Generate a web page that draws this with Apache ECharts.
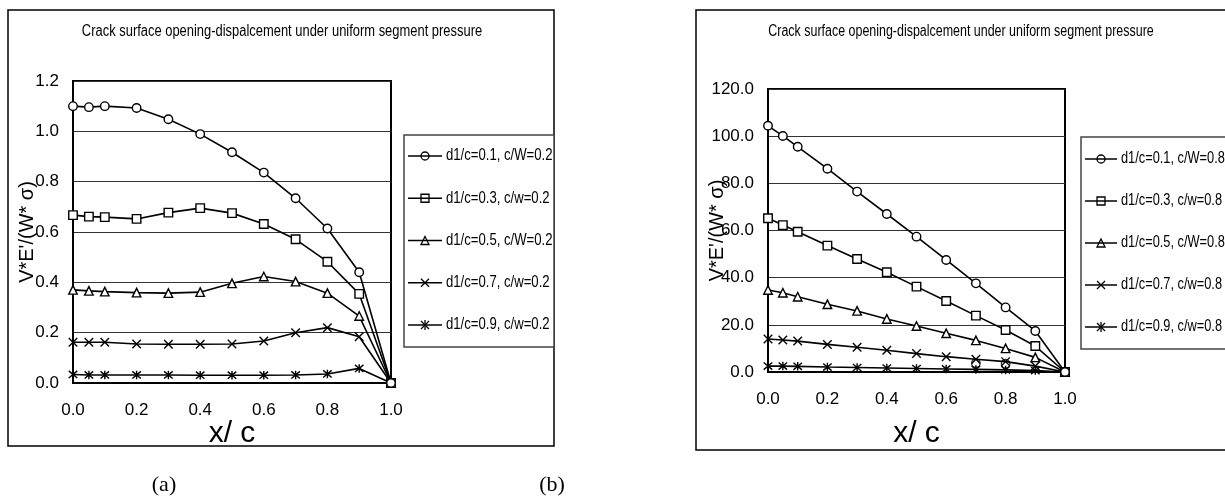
<!DOCTYPE html>
<html>
<head>
<meta charset="utf-8">
<script src="https://cdn.jsdelivr.net/npm/echarts@6/dist/echarts.min.js"></script>
<style>
html,body{margin:0;padding:0;background:#fff;}
#chart{width:1225px;height:498px;}
</style>
</head>
<body>
<div id="chart"></div>
<script>
// ---------- data ----------
const titleText = "Crack surface opening-dispalcement under uniform segment pressure";
const xVals = [0, 0.05, 0.1, 0.2, 0.3, 0.4, 0.5, 0.6, 0.7, 0.8, 0.9, 1.0];

// chart (a): c/W = 0.2
const a1 = [1.100, 1.096, 1.100, 1.093, 1.048, 0.989, 0.917, 0.836, 0.734, 0.614, 0.440, 0];
const a2 = [0.667, 0.661, 0.659, 0.652, 0.677, 0.695, 0.675, 0.632, 0.571, 0.482, 0.354, 0];
const a3 = [0.370, 0.366, 0.363, 0.359, 0.357, 0.361, 0.396, 0.423, 0.403, 0.357, 0.266, 0];
const a4 = [0.162, 0.162, 0.162, 0.155, 0.154, 0.154, 0.155, 0.167, 0.200, 0.220, 0.184, 0];
const a5 = [0.034, 0.032, 0.032, 0.032, 0.032, 0.031, 0.031, 0.031, 0.032, 0.036, 0.058, 0];
const aLabels = ["d1/c=0.1, c/W=0.2", "d1/c=0.3, c/w=0.2", "d1/c=0.5, c/W=0.2", "d1/c=0.7, c/w=0.2", "d1/c=0.9, c/w=0.2"];

// chart (b): c/W = 0.8
const b1 = [104.4, 100.1, 95.5, 86.2, 76.5, 67.0, 57.4, 47.5, 37.6, 27.4, 17.4, 0];
const b2 = [65.2, 62.3, 59.5, 53.6, 47.9, 42.3, 36.2, 30.1, 23.9, 17.8, 11.0, 0];
const b3 = [34.8, 33.6, 31.9, 28.7, 25.9, 22.5, 19.5, 16.4, 13.4, 10.0, 6.2, 0];
const b4 = [14.0, 13.6, 13.1, 11.7, 10.5, 9.2, 7.8, 6.5, 5.4, 4.4, 2.5, 0];
const b5 = [2.5, 2.5, 2.4, 2.1, 1.9, 1.7, 1.5, 1.3, 1.1, 0.9, 0.6, 0];
const bStrayX = [0.7, 0.8];
const bStrayY = [3.7, 3.5];
const bLabels = ["d1/c=0.1, c/W=0.8", "d1/c=0.3, c/w=0.8", "d1/c=0.5, c/W=0.8", "d1/c=0.7, c/w=0.8", "d1/c=0.9, c/w=0.8"];

const aTicksY = {min: 0, max: 1.2, interval: 0.2};
const bTicksY = {min: 0, max: 120, interval: 20};
const xTicks = {min: 0, max: 1, interval: 0.2};
const yName = "V*E'/(W* σ)";
const xName = "x/ c";

// ---------- styling ----------
const FONT = '"Liberation Sans", Arial, sans-serif';
const symX = 'path://M0,0L10,10M10,0L0,10';
const symAst = 'path://M0,0L10,10M10,0L0,10M5,-1L5,11';
const symbols = ['circle', 'rect', 'triangle', symX, symAst];
const kinds = ['circle', 'rect', 'triangle', 'x', 'ast'];

function pairs(ys) { return xVals.map((x, i) => [x, ys[i]]); }

function mkSeries(name, ys, k, gi) {
  return {
    type: 'line', name: name, xAxisIndex: gi, yAxisIndex: gi,
    data: pairs(ys), symbol: symbols[k], symbolSize: 8.5,
    lineStyle: {color: '#000', width: 1.6},
    itemStyle: {color: '#fff', borderColor: '#000', borderWidth: 1.4},
    emphasis: {disabled: true}, animation: false, z: 3 + (5 - k)
  };
}

function xAxisOf(gi, gap) {
  return {
    gridIndex: gi, type: 'value', min: xTicks.min, max: xTicks.max, interval: xTicks.interval,
    axisLine: {show: true, onZero: false, lineStyle: {color: '#000', width: 2}},
    axisTick: {show: false}, splitLine: {show: false},
    axisLabel: {formatter: v => v.toFixed(1), fontSize: 17, color: '#000', fontFamily: FONT, margin: 19},
    name: xName, nameLocation: 'middle', nameGap: gap, nameMoveOverlap: false,
    nameTextStyle: {fontSize: 30, color: '#000', fontFamily: FONT}
  };
}
function yAxisOf(gi, t, gap) {
  return {
    gridIndex: gi, type: 'value', min: t.min, max: t.max, interval: t.interval,
    axisLine: {show: true, onZero: false, lineStyle: {color: '#000', width: 2}},
    axisTick: {show: false},
    splitLine: {show: true, lineStyle: {color: '#333', width: 1}},
    axisLabel: {formatter: v => v.toFixed(1), fontSize: 17, color: '#000', fontFamily: FONT, margin: 14},
    name: yName, nameLocation: 'middle', nameGap: gap, nameMoveOverlap: false,
    nameTextStyle: {fontSize: 20, color: '#000', fontFamily: FONT}
  };
}

function marker(k, cx, cy) {
  const st = {fill: null, stroke: '#000', lineWidth: 1.3};
  const r = 4;
  if (k === 'circle') return [{type: 'circle', shape: {cx: cx, cy: cy, r: r}, style: st}];
  if (k === 'rect') return [{type: 'rect', shape: {x: cx - r, y: cy - r, width: 2 * r, height: 2 * r}, style: st}];
  if (k === 'triangle') return [{type: 'polygon', shape: {points: [[cx, cy - r], [cx + r, cy + r], [cx - r, cy + r]]}, style: st}];
  const out = [
    {type: 'line', shape: {x1: cx - r, y1: cy - r, x2: cx + r, y2: cy + r}, style: st},
    {type: 'line', shape: {x1: cx + r, y1: cy - r, x2: cx - r, y2: cy + r}, style: st}
  ];
  if (k === 'ast') out.push({type: 'line', shape: {x1: cx, y1: cy - r - 1, x2: cx, y2: cy + r + 1}, style: st});
  return out;
}

function legend(labels, box, lx1, lx2, lxm, tx, y0, gap, sx) {
  const els = [{type: 'rect', shape: box, style: {fill: '#fff', stroke: '#444', lineWidth: 1.5}, z: 10}];
  labels.forEach((lab, i) => {
    const y = y0 + i * gap;
    els.push({type: 'line', shape: {x1: lx1, y1: y, x2: lx2, y2: y}, style: {stroke: '#000', lineWidth: 1.5}, z: 11});
    marker(kinds[i], lxm, y).forEach(m => { m.z = 12; els.push(m); });
    els.push({type: 'text', x: tx, y: y, scaleX: sx, z: 12,
      style: {text: lab, font: '16px ' + FONT, fill: '#000', align: 'left', verticalAlign: 'middle',
              textAlign: 'left', textVerticalAlign: 'middle'}});
  });
  return els;
}

function title(cx, cy, sx) {
  return {type: 'text', x: cx, y: cy, scaleX: sx, z: 12,
    style: {text: titleText, font: '16px ' + FONT, fill: '#000', align: 'center', verticalAlign: 'middle',
            textAlign: 'center', textVerticalAlign: 'middle'}};
}
function caption(t, cx, cy) {
  return {type: 'text', x: cx, y: cy, z: 12,
    style: {text: t, font: '22px "Liberation Serif", "Times New Roman", serif', fill: '#000', align: 'center', verticalAlign: 'middle',
            textAlign: 'center', textVerticalAlign: 'middle'}};
}

const graphics = [
  {type: 'rect', shape: {x: 8, y: 10, width: 546, height: 436}, style: {fill: null, stroke: '#000', lineWidth: 1.5}, z: 1},
  {type: 'rect', shape: {x: 696, y: 10, width: 600, height: 440}, style: {fill: null, stroke: '#000', lineWidth: 1.5}, z: 1},
  title(282, 32, 0.808),
  title(961, 32, 0.778),
  caption('(a)', 164, 485),
  caption('(b)', 552, 485)
].concat(
  legend(aLabels, {x: 404, y: 135, width: 150, height: 212}, 408, 442, 425, 446, 156, 42.25, 0.82),
  legend(bLabels, {x: 1081, y: 137, width: 200, height: 212}, 1085, 1117, 1101, 1121, 159, 42, 0.80)
);

const series = [
  mkSeries(aLabels[0], a1, 0, 0), mkSeries(aLabels[1], a2, 1, 0), mkSeries(aLabels[2], a3, 2, 0),
  mkSeries(aLabels[3], a4, 3, 0), mkSeries(aLabels[4], a5, 4, 0),
  mkSeries(bLabels[0], b1, 0, 1), mkSeries(bLabels[1], b2, 1, 1), mkSeries(bLabels[2], b3, 2, 1),
  mkSeries(bLabels[3], b4, 3, 1), mkSeries(bLabels[4], b5, 4, 1),
  {type: 'scatter', xAxisIndex: 1, yAxisIndex: 1, data: bStrayX.map((x, i) => [x, bStrayY[i]]),
   symbol: 'circle', symbolSize: 8.5, itemStyle: {color: 'rgba(255,255,255,0)', borderColor: '#000', borderWidth: 1.3},
   emphasis: {disabled: true}, z: 9}
];

const chart = echarts.init(document.getElementById('chart'), null, {renderer: 'canvas'});
chart.setOption({
  animation: false,
  backgroundColor: '#fff',
  grid: [
    {left: 73, top: 81, width: 318, height: 302, show: true, borderColor: '#000', borderWidth: 2, backgroundColor: 'transparent'},
    {left: 768, top: 89, width: 297, height: 283, show: true, borderColor: '#000', borderWidth: 2, backgroundColor: 'transparent'}
  ],
  xAxis: [xAxisOf(0, 36), xAxisOf(1, 47)],
  yAxis: [yAxisOf(0, aTicksY, 36), yAxisOf(1, bTicksY, 41)],
  series: series,
  graphic: {elements: graphics}
});
</script>
</body>
</html>
